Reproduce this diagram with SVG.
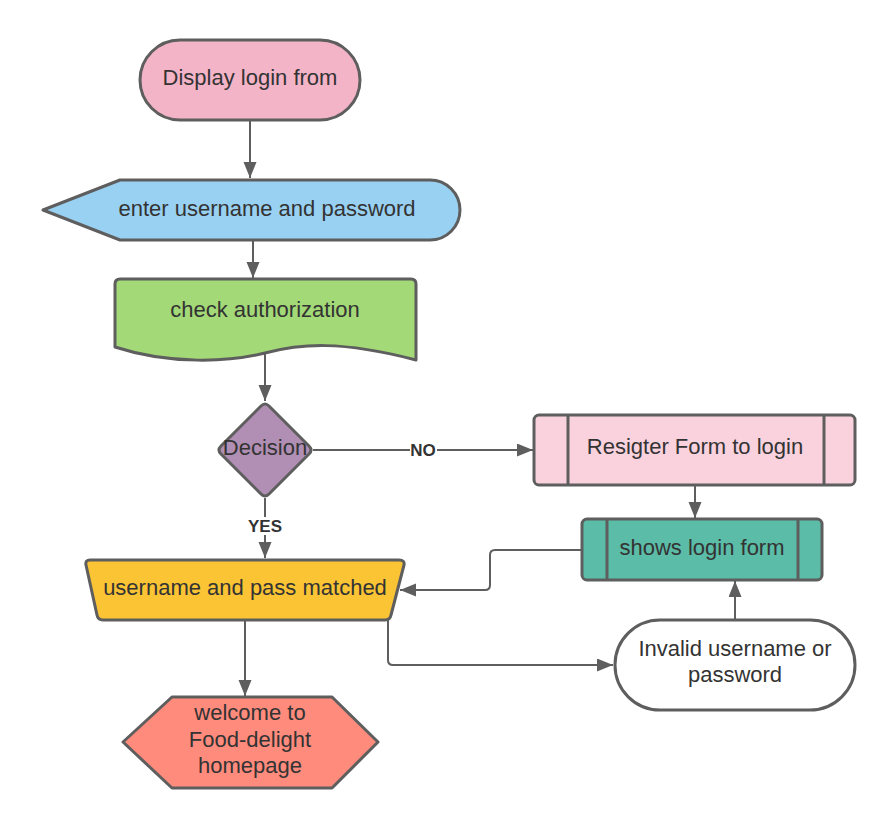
<svg xmlns="http://www.w3.org/2000/svg" width="895" height="828" viewBox="0 0 895 828">
<defs>
<style>
.n{stroke:#5e5e5e;stroke-width:3;stroke-linejoin:round}
.t{font-family:"Liberation Sans",Arial,sans-serif;font-size:22px;fill:#333;text-anchor:middle}
.l{font-family:"Liberation Sans",Arial,sans-serif;font-size:17px;font-weight:bold;fill:#333;text-anchor:middle}
.c{fill:none;stroke:#5e5e5e;stroke-width:2;marker-end:url(#ah)}
</style>
<marker id="ah" markerUnits="userSpaceOnUse" markerWidth="18" markerHeight="14" refX="16" refY="6.5" orient="auto">
<path d="M0,0 L16,6.5 L0,13 Z" fill="#5e5e5e"/>
</marker>
</defs>
<rect width="895" height="828" fill="#fff"/>
<g id="connectors">
<line class="c" x1="250" y1="120" x2="250" y2="178"/>
<line class="c" x1="253" y1="240" x2="253" y2="278"/>
<line class="c" x1="265" y1="354" x2="265" y2="401"/>
<line class="c" x1="313" y1="450" x2="533" y2="450"/>
<line class="c" x1="265" y1="498" x2="265" y2="558"/>
<line class="c" x1="695" y1="485" x2="695" y2="518"/>
<line class="c" x1="735" y1="620" x2="735" y2="581"/>
<path class="c" d="M582,550 L495,550 Q490,550 490,555 L490,585 Q490,590 485,590 L400,590"/>
<line class="c" x1="245" y1="620" x2="245" y2="696"/>
<path class="c" d="M388,620 L388,660 Q388,665 393,665 L613,665"/>
<rect x="410" y="441" width="27" height="18" fill="#fff"/>
<text class="l" x="423" y="456">NO</text>
<rect x="246" y="517" width="38" height="18" fill="#fff"/>
<text class="l" x="265" y="532">YES</text>
</g>
<g id="display-login">
<rect class="n" x="140" y="40" width="220" height="80" rx="40" fill="#f4b4c8"/>
<text class="t" x="250" y="85">Display login from</text>
</g>
<g id="enter-credentials">
<path class="n" d="M43,210 L120,180 L430,180 A30,30 0 0 1 430,240 L120,240 Z" fill="#99d1f2"/>
<text class="t" x="267" y="216">enter username and password</text>
</g>
<g id="check-authorization">
<path class="n" d="M115,347 L115,284 Q115,279 120,279 L411,279 Q416,279 416,284 L416,360 C340,340 300,344 265,353 C230,362 170,365 115,347 Z" fill="#a3d977"/>
<text class="t" x="265" y="317">check authorization</text>
</g>
<g id="decision">
<path class="n" d="M261,406 Q265,402 269,406 L309,446 Q313,450 309,454 L269,494 Q265,498 261,494 L221,454 Q217,450 221,446 Z" fill="#b18fb4"/>
<text class="t" x="265" y="455">Decision</text>
</g>
<g id="register-form">
<rect class="n" x="534" y="415" width="321" height="70" rx="5" fill="#f9d2de"/>
<line class="n" x1="568" y1="415" x2="568" y2="485" fill="none"/>
<line class="n" x1="824" y1="415" x2="824" y2="485" fill="none"/>
<text class="t" x="695" y="454">Resigter Form to login</text>
</g>
<g id="shows-login-form">
<rect class="n" x="582" y="519" width="240" height="61" rx="5" fill="#5bbca7"/>
<line class="n" x1="607" y1="519" x2="607" y2="580" fill="none"/>
<line class="n" x1="798" y1="519" x2="798" y2="580" fill="none"/>
<text class="t" x="702" y="555">shows login form</text>
</g>
<g id="matched">
<path class="n" d="M90,560 L399,560 Q405,560 404,565 L391,615 Q390,620 385,620 L103,620 Q98,620 97,615 L86,565 Q85,560 90,560 Z" fill="#fbc434"/>
<text class="t" x="245" y="595">username and pass matched</text>
</g>
<g id="invalid">
<rect class="n" x="615" y="620" width="240" height="90" rx="45" fill="#fff"/>
<text class="t" x="735" y="656">Invalid username or</text>
<text class="t" x="735" y="682">password</text>
</g>
<g id="welcome">
<path class="n" d="M172,697 L332,697 L378,742 L332,788 L172,788 L123,742 Z" fill="#ff8b7d"/>
<text class="t" x="250" y="720">welcome to</text>
<text class="t" x="250" y="747">Food-delight</text>
<text class="t" x="250" y="773">homepage</text>
</g>
</svg>
